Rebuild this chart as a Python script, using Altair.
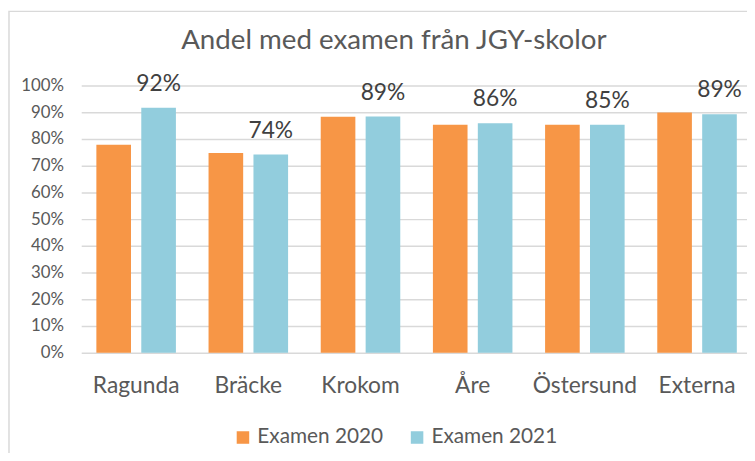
import altair as alt
import pandas as pd

skolor = ["Ragunda", "Bräcke", "Krokom", "Åre", "Östersund", "Externa"]
examen_2020 = [77.8, 74.8, 88.3, 85.3, 85.3, 89.9]
examen_2021 = [91.7, 74.2, 88.4, 85.9, 85.3, 89.3]
etiketter_2021 = ["92%", "74%", "89%", "86%", "85%", "89%"]
serier = ["Examen 2020", "Examen 2021"]
farger = ["#F79646", "#92CDDD"]
y_ticks = [0, 10, 20, 30, 40, 50, 60, 70, 80, 90, 100]
titel = "Andel med examen från JGY-skolor"

rows = []
for i, s in enumerate(skolor):
    rows.append({"Skola": s, "Serie": serier[0], "Andel": examen_2020[i], "Etikett": ""})
    rows.append({"Skola": s, "Serie": serier[1], "Andel": examen_2021[i], "Etikett": etiketter_2021[i]})
df = pd.DataFrame(rows)

FONT = "Lato"

x_enc = alt.X("Skola:N", sort=skolor,
              scale=alt.Scale(paddingInner=0.291, paddingOuter=0.113, align=0.598),
              axis=alt.Axis(title=None, labelAngle=0, labelFontSize=23, labelColor="#595959",
                            labelFont=FONT, labelPadding=22, ticks=False, domain=False))
xoff_enc = alt.XOffset("Serie:N", sort=serier, scale=alt.Scale(paddingInner=0.229, paddingOuter=0))
y_enc = alt.Y("Andel:Q", scale=alt.Scale(domain=[0, 100], nice=False),
              axis=alt.Axis(title=None, values=y_ticks, tickCount=12, labelExpr="datum.value + '%'",
                            labelOverlap=False, labelFontSize=17, labelColor="#595959",
                            labelFont=FONT, labelPadding=18, ticks=False, domain=False,
                            grid=True, gridColor="#D9D9D9", gridWidth=1.5))

bars = alt.Chart(df).mark_bar().encode(
    x=x_enc,
    xOffset=xoff_enc,
    y=y_enc,
    color=alt.Color("Serie:N", sort=serier,
                    scale=alt.Scale(domain=serier, range=farger),
                    legend=alt.Legend(title=None, orient="none", direction="horizontal",
                                      legendX=153, legendY=345, symbolType="square",
                                      symbolSize=160, symbolStrokeWidth=0,
                                      labelFontSize=21, labelFont=FONT, labelColor="#595959",
                                      labelOffset=4, columnPadding=23, padding=0)),
)

labels = alt.Chart(df).transform_filter(
    alt.datum.Serie == serier[1]
).mark_text(fontSize=23, font=FONT, color="#404040", baseline="alphabetic", dy=-17).encode(
    x=x_enc,
    xOffset=xoff_enc,
    y=y_enc,
    text="Etikett:N",
)

border = alt.Chart(pd.DataFrame({"a": [0]})).mark_rect(
    fill=None, stroke="#D9D9D9", strokeWidth=1.5
).encode(
    x=alt.value(-73), x2=alt.value(800), y=alt.value(-75), y2=alt.value(500)
)

title_mark = alt.Chart(pd.DataFrame({"t": [titel]})).mark_text(
    fontSize=28, font=FONT, color="#595959", align="center", baseline="alphabetic"
).encode(
    x=alt.value(316), y=alt.value(-37), text="t:N"
)

chart = alt.layer(bars, labels, border, title_mark).properties(
    width=673,
    height=270,
    padding={"left": 74, "top": 76, "right": 0, "bottom": 99},
    autosize=alt.AutoSizeParams(type="none"),
).configure_view(stroke=None)

chart.save("out.html", embed_options={"renderer": "svg", "actions": False})
